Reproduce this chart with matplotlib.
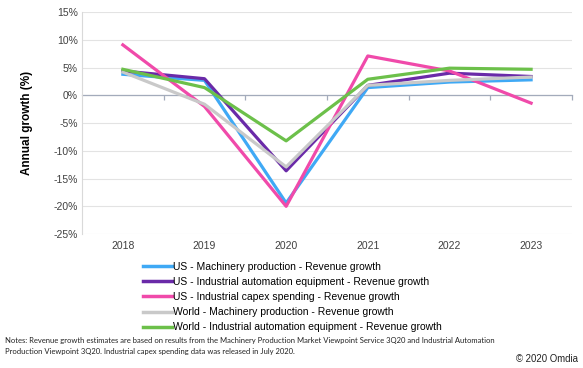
import matplotlib.pyplot as plt
from matplotlib.lines import Line2D

years = ["2018", "2019", "2020", "2021", "2022", "2023"]

us_machinery = [3.8, 2.7, -19.4, 1.4, 2.4, 2.8]
us_automation = [4.4, 3.0, -13.6, 1.8, 4.0, 3.4]
us_capex = [9.1, -2.0, -20.0, 7.1, 4.4, -1.4]
world_machinery = [4.2, -1.6, -12.9, 1.8, 2.7, 3.3]
world_automation = [4.7, 1.4, -8.2, 2.9, 4.9, 4.7]

series_names = [
    "US - Machinery production - Revenue growth",
    "US - Industrial automation equipment - Revenue growth",
    "US - Industrial capex spending - Revenue growth",
    "World - Machinery production - Revenue growth",
    "World - Industrial automation equipment - Revenue growth",
]
series_values = [us_machinery, us_automation, us_capex, world_machinery, world_automation]
colors = ["#3fa9f5", "#6a2aa8", "#f04aaa", "#c9c9c9", "#6cc04a"]

plt.rcParams["font.family"] = ["Liberation Sans", "DejaVu Sans"]

fig = plt.figure(figsize=(5.83, 3.68), dpi=100)
rect = [0.1407, 0.364, 0.8403, 0.603]
xlim = (-0.5, len(years) - 0.5)
ylim = (-25, 15)
yt = list(range(-25, 16, 5))

# zero line axis with category boundary ticks (drawn underneath)
axz = fig.add_axes(rect)
ax = fig.add_axes(rect)
axz.patch.set_visible(False)
ax.patch.set_visible(False)
axz.set_zorder(1)
ax.set_zorder(2)

axz.set_xlim(*xlim)
axz.set_ylim(*ylim)
for s in ["top", "right", "left"]:
    axz.spines[s].set_visible(False)
axz.spines["bottom"].set_position(("data", 0))
axz.spines["bottom"].set_color("#a3abbb")
axz.spines["bottom"].set_linewidth(0.9)
axz.set_xticks([i - 0.5 for i in range(1, len(years) + 1)])
axz.set_xticklabels([])
axz.tick_params(axis="x", length=3.5, width=0.9, color="#a3abbb", direction="out")
axz.set_yticks(yt)
axz.tick_params(axis="y", left=False, labelleft=False)
axz.grid(axis="y", color="#e3e3e3", lw=0.8)

x = list(range(len(years)))
for name, vals, c in zip(series_names, series_values, colors):
    ax.plot(x, vals, color=c, lw=2.3, label=name)

ax.set_xlim(*xlim)
ax.set_ylim(*ylim)
ax.set_yticks(yt)
ax.set_yticklabels([f"{v}%" for v in yt], fontsize=7.5, color="#404040")
ax.set_xticks(x)
ax.set_xticklabels(years, fontsize=7.5, color="#404040")
ax.tick_params(axis="x", length=0, pad=5)
ax.tick_params(axis="y", length=0, pad=3)
for s in ["top", "right", "bottom"]:
    ax.spines[s].set_visible(False)
ax.spines["left"].set_color("#d9d9d9")

ax.set_ylabel("Annual growth (%)", fontsize=8.5, fontweight="bold", labelpad=15)

handles = [Line2D([0], [0], color=c, lw=2.5) for c in colors]
fig.legend(handles, series_names, loc="upper left", bbox_to_anchor=(0.245, 0.289),
           frameon=False, fontsize=7.5, handlelength=2.8, handletextpad=0.1,
           labelspacing=0.5, borderaxespad=0, borderpad=0)

fig.text(0.008, 0.06,
         "Notes: Revenue growth estimates are based on results from the Machinery Production Market Viewpoint Service 3Q20 and Industrial Automation\n"
         "Production Viewpoint 3Q20. Industrial capex spending data was released in July 2020.",
         fontsize=5.5, family=["Lato", "DejaVu Sans"], color="#222222", va="center", linespacing=1.6)
fig.text(0.992, 0.024, "© 2020 Omdia", fontsize=6.9, ha="right", va="center", color="#222222")

fig.savefig("out.png", dpi=100)
